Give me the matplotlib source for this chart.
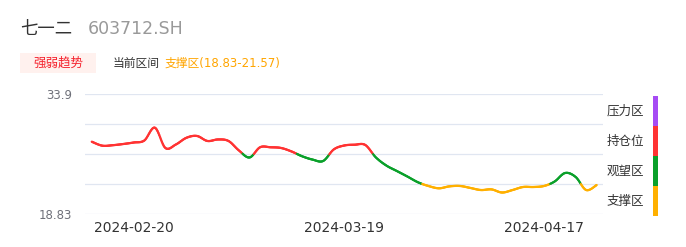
import numpy as np
import pandas as pd
import matplotlib
matplotlib.use("Agg")
import matplotlib.pyplot as plt
from matplotlib.collections import LineCollection
from matplotlib.patches import Rectangle

plt.rcParams['font.family'] = ['Noto Sans CJK SC', 'DejaVu Sans']

# trading days (Spring Festival 2/9-2/18 and Qingming 4/4-4/5 closed)
holidays = pd.to_datetime(["2024-02-09", "2024-02-12", "2024-02-13", "2024-02-14",
                           "2024-02-15", "2024-02-16", "2024-04-04", "2024-04-05"])
dates = [d for d in pd.bdate_range("2024-02-06", "2024-04-24") if d not in holidays]

values = [27.91, 27.41, 27.47, 27.62, 27.81, 28.06, 29.67, 27.12, 27.56, 28.40,
          28.63, 28.00, 28.19, 28.00, 26.80, 25.93, 27.21, 27.21, 27.12, 26.68,
          26.08, 25.66, 25.49, 26.93, 27.43, 27.53, 27.50, 25.95, 24.92, 24.23,
          23.54, 22.82, 22.35, 22.06, 22.30, 22.35, 22.10, 21.84, 21.92, 21.53,
          21.84, 22.22, 22.22, 22.35, 22.91, 23.98, 23.48, 21.84, 22.47]

tick_dates = ["2024-02-20", "2024-03-19", "2024-04-17"]
y_min, y_max = 18.83, 33.9

zone_names = ["压力区", "持仓位", "观望区", "支撑区"]
zone_colors = ["#a64bf4", "#ff3333", "#0aa02a", "#ffb000"]

stock_name = "七一二"
stock_code = "603712.SH"
current_zone = "支撑区(18.83-21.57)"


def smooth(x, y, n=12):
    # catmull-rom curve through the points, only for drawing
    x = np.asarray(x, float)
    y = np.asarray(y, float)
    px = np.concatenate([[x[0]], x, [x[-1]]])
    py = np.concatenate([[y[0]], y, [y[-1]]])
    xs, ys = [], []
    t = np.linspace(0, 1, n, endpoint=False)
    for i in range(1, len(px) - 2):
        for arr, out in ((px, xs), (py, ys)):
            p0, p1, p2, p3 = arr[i - 1], arr[i], arr[i + 1], arr[i + 2]
            out.extend(0.5 * (2 * p1 + (-p0 + p2) * t + (2 * p0 - 5 * p1 + 4 * p2 - p3) * t ** 2
                              + (-p0 + 3 * p1 - 3 * p2 + p3) * t ** 3))
    xs.append(x[-1])
    ys.append(y[-1])
    return np.array(xs), np.array(ys)


fig = plt.figure(figsize=(6.86, 2.47), dpi=100)
ax = fig.add_axes([85 / 686, 33 / 247, 518 / 686, 120 / 247])

levels = np.linspace(y_min, y_max, 5)
x = np.arange(len(values))
sx, sy = smooth(x, values)

pts = np.column_stack([sx, sy]).reshape(-1, 1, 2)
segs = np.concatenate([pts[:-1], pts[1:]], axis=1)
mid = (sy[:-1] + sy[1:]) / 2
seg_colors = [zone_colors[1] if v >= levels[2] else zone_colors[2] if v >= levels[1] else zone_colors[3]
              for v in mid]
ax.add_collection(LineCollection(segs, colors=seg_colors, linewidths=1.6, capstyle="round"))

for lv in levels:
    ax.axhline(lv, color="#e0e6f1", lw=0.9, zorder=0)

ax.set_xlim(-0.64, len(values) - 0.4)
ax.set_ylim(y_min, y_max)
ax.set_yticks([y_min, y_max])
ax.set_yticklabels([f"{y_min:.2f}", f"{y_max:.1f}"], family="DejaVu Sans", fontsize=8.5, color="#6e7079")
date_str = [d.strftime("%Y-%m-%d") for d in dates]
ax.set_xticks([date_str.index(d) for d in tick_dates])
ax.set_xticklabels(tick_dates, family="DejaVu Sans", fontsize=10, color="#333333")
ax.tick_params(length=0, axis="y", pad=9)
ax.tick_params(length=0, axis="x", pad=5)
for s in ax.spines.values():
    s.set_visible(False)

# header
fig.text(20 / 686, 1 - 29 / 247, stock_name, fontsize=12.5, color="#333333", va="center")
fig.text(88 / 686, 1 - 29 / 247, stock_code, fontsize=12.5, color="#999999", va="center",
         family="DejaVu Sans")
fig.patches.append(Rectangle((20 / 686, 1 - 73 / 247), 76 / 686, 20 / 247, transform=fig.transFigure,
                             facecolor="#fff1ee", edgecolor="none"))
fig.text(58 / 686, 1 - 63 / 247, "强弱趋势", fontsize=9, color="#f5222d", va="center", ha="center")
fig.text(113 / 686, 1 - 63 / 247, "当前区间", fontsize=8.5, color="#333333", va="center")
fig.text(165 / 686, 1 - 63 / 247, current_zone, fontsize=8.5, color="#ffa500", va="center",
         family=["DejaVu Sans", "Noto Sans CJK SC"])

# zone legend on the right
band = 30 / 247
for i, (name, c) in enumerate(zip(zone_names, zone_colors)):
    top = 1 - (96 + 30 * i) / 247
    fig.patches.append(Rectangle((653 / 686, top - band), 5 / 686, band, transform=fig.transFigure,
                                 facecolor=c, edgecolor="none"))
    fig.text(607 / 686, top - band / 2, name, fontsize=9, color="#333333", va="center")

fig.savefig("out.png", dpi=100)
